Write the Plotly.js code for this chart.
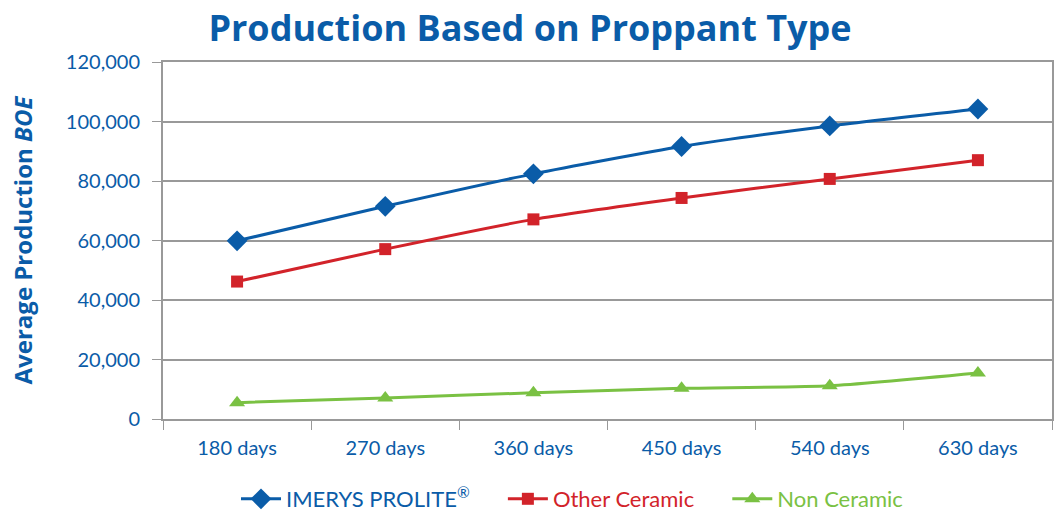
<!DOCTYPE html>
<html>
<head>
<meta charset="utf-8">
<script src="https://cdn.plot.ly/plotly-3.0.1.min.js"></script>
<style>html,body{margin:0;padding:0;background:#fff;}#chart{width:1060px;height:511px;}</style>
</head>
<body>
<div id="chart"></div>
<script>
const categories = ["180 days", "270 days", "360 days", "450 days", "540 days", "630 days"];
const proliteValues = [59900, 71500, 82400, 91600, 98500, 104200];
const otherCeramicValues = [46200, 57100, 67100, 74300, 80700, 87000];
const nonCeramicValues = [5500, 7100, 8800, 10300, 11200, 15500];
const seriesNames = ["IMERYS PROLITE<sup>®</sup>", "Other Ceramic", "Non Ceramic"];

const blue = "#0A5CA8", red = "#D2232A", green = "#7AC143";
const font = "Lato, 'Open Sans', sans-serif";
const titleFont = "'Open Sans', Lato, sans-serif";
const gap = "&nbsp;&nbsp;&nbsp;&nbsp;&nbsp;";

function trace(y, name, color, symbol, size) {
  return {
    x: categories, y: y, type: "scatter", mode: "lines+markers",
    name: '<span style="color:' + color + '">' + name + '</span>',
    line: {color: color, width: 3, shape: "spline", smoothing: 0.6},
    marker: {color: color, symbol: symbol, size: size}
  };
}

const data = [
  trace(proliteValues, seriesNames[0] + gap, blue, "diamond", 16),
  trace(otherCeramicValues, seriesNames[1] + gap, red, "square", 12),
  trace(nonCeramicValues, seriesNames[2], green, "triangle-up", 14)
];

const layout = {
  width: 1060, height: 511,
  margin: {l: 163, r: 8, t: 62, b: 92, autoexpand: false},
  paper_bgcolor: "#fff", plot_bgcolor: "#fff",
  font: {family: font, color: blue, size: 18},
  title: {text: "<b>Production Based on Proppant Type</b>", x: 0.5, xref: "container", xanchor: "center",
          y: 1 - 28 / 511, yref: "container", yanchor: "middle",
          font: {family: titleFont, size: 36, color: blue}},
  xaxis: {
    type: "category", tickson: "boundaries", ticks: "outside", ticklen: 9, tickcolor: "#999",
    showline: true, linecolor: "#999", linewidth: 2, mirror: true, showgrid: false,
    ticklabelstandoff: 10,
    tickfont: {family: font, size: 20, color: blue}, range: [-0.5, 5.5]
  },
  yaxis: {
    range: [0, 120000], dtick: 20000, tickformat: ",d", ticks: "outside", ticklen: 9, tickcolor: "#999",
    showline: true, linecolor: "#999", linewidth: 2, mirror: true,
    showgrid: true, gridcolor: "#999", gridwidth: 2, zeroline: false,
    ticklabelstandoff: 8,
    tickfont: {family: font, size: 20, color: blue},
    title: {text: "<b>Average Production <i>BOE</i></b>", font: {family: titleFont, size: 24, color: blue}, standoff: 26}
  },
  showlegend: true,
  legend: {orientation: "h", x: 236 / 1060, xref: "container", xanchor: "left", y: 1 - 499 / 511, yref: "container", yanchor: "middle",
           font: {family: font, size: 22}, itemwidth: 40, traceorder: "normal"}
};

Plotly.newPlot("chart", data, layout, {displayModeBar: false, staticPlot: true});
</script>
</body>
</html>
